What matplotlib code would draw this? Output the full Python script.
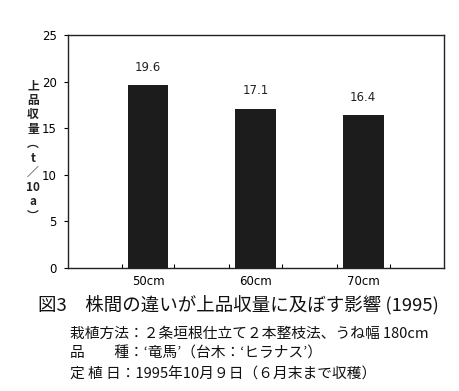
import matplotlib
matplotlib.use("Agg")
import matplotlib.pyplot as plt

categories = ["50cm", "60cm", "70cm"]
values = [19.6, 17.1, 16.4]
yticks = [0, 5, 10, 15, 20, 25]

plt.rcParams['font.family'] = ['Noto Sans CJK JP', 'DejaVu Sans']

W, H = 460, 391
fig = plt.figure(figsize=(W/100, H/100), dpi=100)
ax = fig.add_axes([68/W, 1-268/H, (444-68)/W, (268-35)/H])

x = list(range(len(categories)))
ax.bar(x, values, width=0.38, color='#1c1c1c')
for xi, v in zip(x, values):
    ax.text(xi, v + 1.2, f"{v}", ha='center', va='bottom', fontsize=8.5, family='DejaVu Sans', color='#222')

ax.set_xlim(-0.743, 2.75)
ax.set_ylim(0, 25)
ax.set_yticks(yticks)
ax.set_yticklabels([str(t) for t in yticks], fontsize=8.5, family='DejaVu Sans')
ax.tick_params(axis='y', direction='out', length=3, width=0.8, pad=5)
minor = []
for xi in x:
    minor += [xi - 0.245, xi + 0.245]
ax.set_xticks(x)
ax.set_xticklabels(categories, fontsize=8.5, family='DejaVu Sans')
ax.tick_params(axis='x', which='major', length=0, pad=5)
ax.set_xticks(minor, minor=True)
ax.tick_params(axis='x', which='minor', direction='in', length=3, width=0.8)
for s in ax.spines.values():
    s.set_linewidth(1.0)
    s.set_color('#222')

fig.text(33/W, 1-151/H, "上\n品\n収\n量\n︵\nt\n／\n10\na\n︶", ha='center', va='center',
         fontsize=8.5, fontweight='bold', linespacing=1.15, color='#222')

fig.text(38/W, 1-305/H, "図3　株間の違いが上品収量に及ぼす影響 (1995)", ha='left', va='center',
         fontsize=13.3, color='#111')
fig.text(70/W, 1-334/H, "栽植方法：２条垣根仕立て２本整枝法、うね幅 180cm", ha='left', va='center',
         fontsize=10.6, color='#111')
fig.text(70/W, 1-354/H, "品　　種：‘竜馬’（台木：‘ヒラナス’）", ha='left', va='center',
         fontsize=10.6, color='#111')
fig.text(70/W, 1-374/H, "定 植 日：1995年10月９日（６月末まで収穫）", ha='left', va='center',
         fontsize=10.6, color='#111')

fig.savefig("out.png", dpi=100)
